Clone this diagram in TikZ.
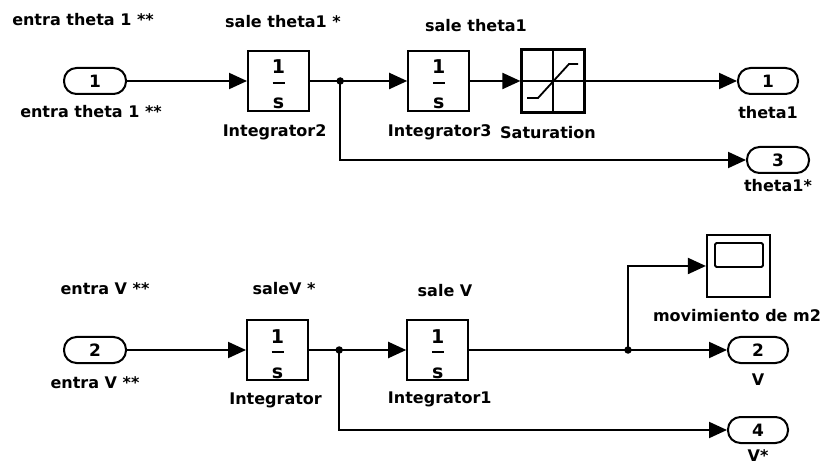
\documentclass[tikz,border=0pt]{standalone}
\usepackage{fontspec}
\setmainfont{DejaVu Sans}
\usetikzlibrary{arrows.meta,positioning,calc}
\tikzset{
  block/.style      = {draw, line width=2.2pt, minimum width=61pt, minimum height=60pt,
                       inner sep=0pt},
  port/.style       = {draw, line width=2pt, rounded corners=12.5pt, minimum width=62pt,
                       minimum height=26pt, inner sep=0pt, font=\fontsize{17pt}{19pt}\selectfont\bfseries},
  scopebox/.style   = {draw, line width=2.2pt, minimum width=63pt, minimum height=62pt, inner sep=0pt},
  sig/.style        = {-{Triangle[length=18pt,width=16pt]}, line width=2pt},
  wire/.style       = {line width=2pt},
  lbl/.style        = {font=\fontsize{16pt}{18pt}\selectfont\bfseries, inner sep=0pt},
  frac/.style       = {font=\fontsize{19pt}{21pt}\selectfont\bfseries, inner sep=0pt},
  dot/.style        = {circle, fill, minimum size=7.5pt, inner sep=0pt},
}

\begin{document}
\begin{tikzpicture}[x=1pt, y=-1pt]
  \useasboundingbox (0,0) rectangle (830,470);
  % theta1 chain
  \node[port] (in1) at (95,81) {1};
  \node[block, right=120pt of in1] (int2) {};
  \node[block, right=97pt of int2] (int3) {};
  \node[block, right=50pt of int3, minimum width=63pt, minimum height=63pt] (sat) {};
  \node[port, minimum width=60pt] (out1) at (768,81) {1};
  \node[port] (out3) at (778,160) {3};
  \coordinate (b1) at ($(int2.east)+(30,0)$);
  % V chain
  \node[port] (in2) at (95,350) {2};
  \node[block, right=119pt of in2] (int) {};
  \node[block, right=97pt of int] (int1) {};
  \node[scopebox] (scope) at (738.5,266) {};
  \node[port, minimum width=60pt] (out2) at (758,350) {2};
  \node[port, minimum width=60pt] (out4) at (758,430) {4};
  \coordinate (b2) at ($(int.east)+(30,0)$);
  \coordinate (b3) at (628,350);
  % 1/s inside the integrators
  \foreach \b in {int2,int3,int,int1} {
    \node[frac, anchor=base] at ($(\b)+(0,-7)$) {1};
    \draw[wire] ($(\b)+(-6,2)$) -- ($(\b)+(6,2)$);
    \node[frac, anchor=base] at ($(\b)+(0,28)$) {s};
  }
  % saturation icon
  \draw[line width=1.8pt] (sat.north) -- (sat.south);
  \draw[line width=1.8pt] (sat.west) -- (sat.east);
  \draw[line width=1.8pt] ($(sat)+(-26,17)$) -- ($(sat)+(-15,17)$) -- ($(sat)+(16,-17)$) -- ($(sat)+(25,-17)$);
  % scope screen
  \draw[line width=1.8pt, rounded corners=1.5pt] ($(scope)+(-23.5,-23)$) rectangle ($(scope)+(24.5,1)$);
  % signals
  \draw[sig] (in1) -- (int2);
  \draw[wire] (int2) -- (b1);
  \draw[sig] (b1) -- (int3);
  \draw[sig] (b1) |- (out3);
  \draw[sig] (int3) -- (sat);
  \draw[sig] (sat) -- (out1);
  \node[dot] at (b1) {};
  \draw[sig] (in2) -- (int);
  \draw[wire] (int) -- (b2);
  \draw[sig] (b2) -- (int1);
  \draw[sig] (b2) |- (out4);
  \draw[wire] (int1) -- (b3);
  \draw[sig] (b3) |- (scope);
  \draw[sig] (b3) -- (out2);
  \node[dot] at (b2) {};
  \node[dot] at (b3) {};
  % labels
  \node[lbl] at (83,20) {entra theta 1 **};
  \node[lbl] at (283,22) {sale theta1 *};
  \node[lbl] at (476,26) {sale theta1};
  \node[lbl] at ($(in1)+(-4,31)$) {entra theta 1 **};
  \node[lbl] at ($(int2)+(-4,51)$) {Integrator2};
  \node[lbl] at ($(int3)+(1,51)$) {Integrator3};
  \node[lbl] at ($(sat)+(-5,52)$) {Saturation};
  \node[lbl] at ($(out1)+(0,32)$) {theta1};
  \node[lbl] at ($(out3)+(0,26)$) {theta1*};
  \node[lbl] at (105,289) {entra V  **};
  \node[lbl] at (284,289) {saleV *};
  \node[lbl] at (445,291) {sale V};
  \node[lbl] at ($(in2)+(0,33)$) {entra V **};
  \node[lbl] at ($(int)+(-2,50)$) {Integrator};
  \node[lbl] at ($(int1)+(2,49)$) {Integrator1};
  \node[lbl] at ($(scope)+(-1.5,50)$) {movimiento de m2};
  \node[lbl] at ($(out2)+(0,30)$) {V};
  \node[lbl] at ($(out4)+(0,26)$) {V*};
\end{tikzpicture}
\end{document}
